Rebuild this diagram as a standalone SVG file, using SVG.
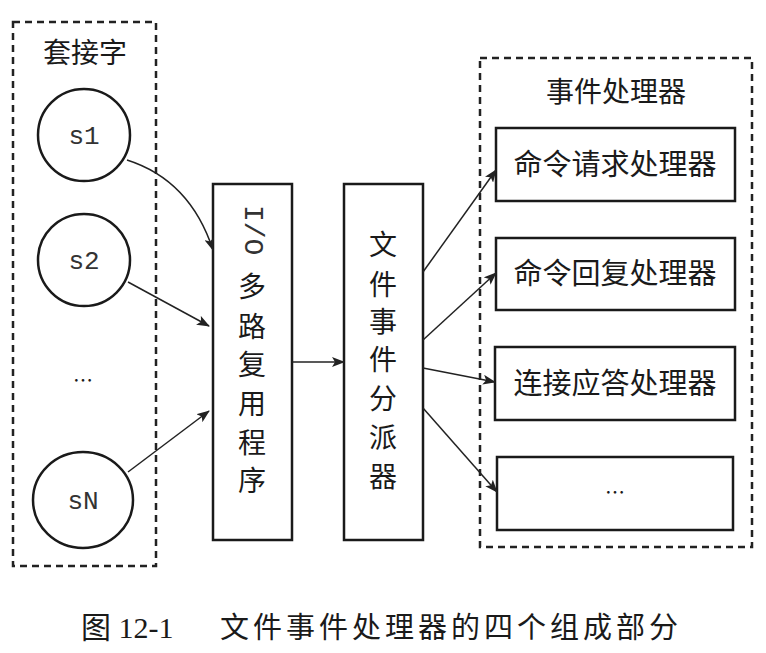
<svg xmlns="http://www.w3.org/2000/svg" width="766" height="653" viewBox="0 0 766 653">
<defs>
<marker id="arr" viewBox="0 0 13 10" refX="12" refY="5" markerWidth="13" markerHeight="10" markerUnits="userSpaceOnUse" orient="auto">
<path d="M0,0 L13,5 L0,10 L3,5 Z" fill="#222"/>
</marker>
</defs>
<style>
.dash{fill:none;stroke:#222;stroke-width:2.5;stroke-dasharray:7 5}
.box{fill:#fff;stroke:#1a1a1a;stroke-width:2.5}
.circ{fill:#fff;stroke:#1a1a1a;stroke-width:2.5}
.cn{font-family:"Noto Sans CJK SC",sans-serif;fill:#1a1a1a}
.mono{font-family:"Liberation Mono",monospace;fill:#333}
.conn{fill:none;stroke:#222;stroke-width:1.5;marker-end:url(#arr)}
.cap{font-family:"Liberation Serif","Noto Sans CJK SC",serif;fill:#1a1a1a}
</style>
<rect width="766" height="653" fill="#fff"/>

<g id="sockets">
<rect class="dash" x="13" y="22" width="143" height="544"/>
<text class="cn" x="85" y="63" font-size="28" text-anchor="middle">套接字</text>
</g>
<g id="s1"><circle class="circ" cx="84" cy="135" r="46"/><text class="mono" x="84" y="144" font-size="26" text-anchor="middle">s1</text></g>
<g id="s2"><circle class="circ" cx="84" cy="260" r="46"/><text class="mono" x="84" y="269" font-size="26" text-anchor="middle">s2</text></g>
<g id="sdots"><text class="cn" x="83" y="388" font-size="20" text-anchor="middle">…</text></g>
<g id="sN"><ellipse class="circ" cx="83" cy="500" rx="50" ry="48"/><text class="mono" x="83" y="509" font-size="26" text-anchor="middle">sN</text></g>

<g id="io">
<rect class="box" x="213" y="184" width="79" height="356"/>
<text class="mono" font-size="28" transform="translate(252,205) rotate(90)" dominant-baseline="central" fill="#222">I/O</text>
<text class="cn" font-size="28" text-anchor="middle" x="252">
<tspan x="252" y="297">多</tspan><tspan x="252" y="337">路</tspan><tspan x="252" y="375">复</tspan><tspan x="252" y="414">用</tspan><tspan x="252" y="453">程</tspan><tspan x="252" y="491">序</tspan>
</text>
</g>

<g id="dispatcher">
<rect class="box" x="344" y="184" width="79" height="356"/>
<text class="cn" font-size="28" text-anchor="middle">
<tspan x="383" y="255">文</tspan><tspan x="383" y="295">件</tspan><tspan x="383" y="332">事</tspan><tspan x="383" y="370">件</tspan><tspan x="383" y="409">分</tspan><tspan x="383" y="448">派</tspan><tspan x="383" y="487">器</tspan>
</text>
</g>

<g id="handlers">
<rect class="dash" x="480" y="58" width="272" height="489"/>
<text class="cn" x="616" y="102" font-size="28" text-anchor="middle">事件处理器</text>
</g>
<g id="h1"><rect class="box" x="496" y="128" width="239" height="73"/><text class="cn" x="615" y="175" font-size="29" text-anchor="middle">命令请求处理器</text></g>
<g id="h2"><rect class="box" x="496" y="238" width="239" height="72"/><text class="cn" x="615" y="284" font-size="29" text-anchor="middle">命令回复处理器</text></g>
<g id="h3"><rect class="box" x="495" y="347" width="240" height="73"/><text class="cn" x="615" y="394" font-size="29" text-anchor="middle">连接应答处理器</text></g>
<g id="h4"><rect class="box" x="497" y="457" width="236" height="73"/><text class="cn" x="615" y="500" font-size="20" text-anchor="middle">…</text></g>

<g id="connectors">
<path class="conn" d="M127,160 Q190,180 213,250"/>
<path class="conn" d="M128,282 L209,326"/>
<path class="conn" d="M128,472 L209,411"/>
<path class="conn" d="M292,362 L344,362"/>
<path class="conn" d="M423,272 L496,170"/>
<path class="conn" d="M423,340 L496,273"/>
<path class="conn" d="M423,368 L495,382"/>
<path class="conn" d="M423,408 L497,492"/>
</g>

<g id="caption">
<text class="cap" x="81" y="638" font-size="30">图 12-1</text>
<text class="cap" x="220" y="638" font-size="29" letter-spacing="4">文件事件处理器的四个组成部分</text>
</g>
</svg>
